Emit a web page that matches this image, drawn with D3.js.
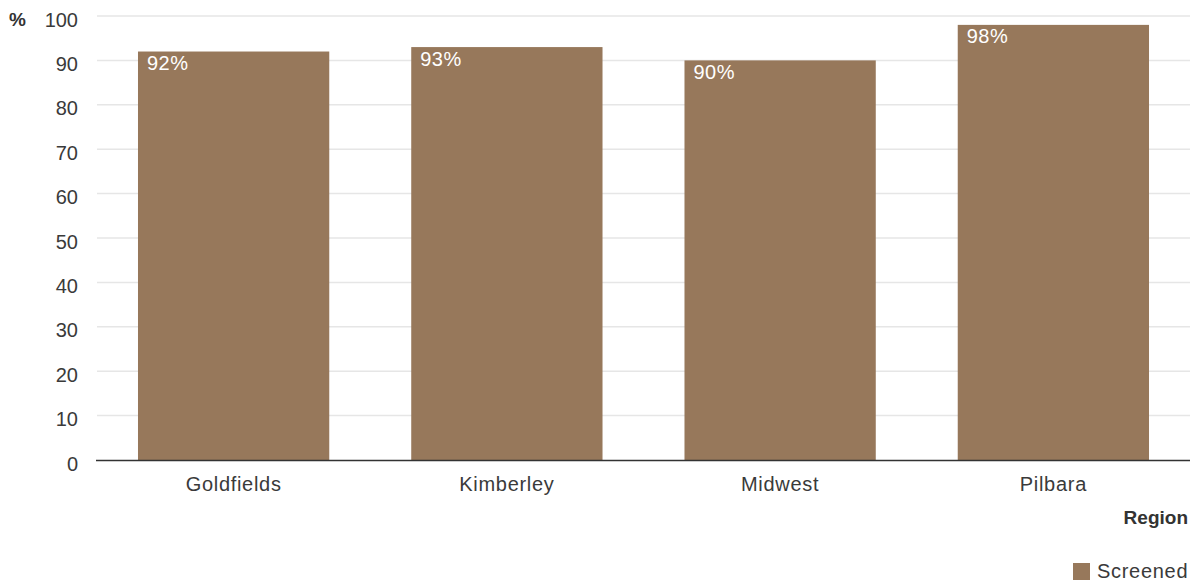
<!DOCTYPE html>
<html><head><meta charset="utf-8">
<script src="https://cdn.jsdelivr.net/npm/d3@7"></script>
<style>body{margin:0;background:#fff}text{font-family:"Liberation Sans",Arial,sans-serif}</style>
</head><body>
<svg id="c" width="1197" height="582"></svg>
<script>
const categories = ["Goldfields","Kimberley","Midwest","Pilbara"];
const screened = [92,93,90,98];
const yTicks = [0,10,20,30,40,50,60,70,80,90,100];
const seriesName = "Screened";
const color = "#97785b";

(function(){
const svg = d3.select("#c");
const mL = 97, mR = 1190, mT = 16, mB = 460;
const F = "Liberation Sans, Arial, sans-serif";
const x = d3.scaleBand().domain(categories).range([mL,mR]).paddingInner(0.3).paddingOuter(0.15);
const y = d3.scaleLinear().domain([0,100]).range([mB,mT]);

svg.append("g").selectAll("line").data(yTicks.filter(d=>d>0)).join("line")
  .attr("x1",mL).attr("x2",mR).attr("y1",d=>y(d)).attr("y2",d=>y(d))
  .attr("stroke","#e6e6e6").attr("stroke-width",1.5);

const ya = svg.append("g").attr("transform",`translate(${mL},0)`)
  .call(d3.axisLeft(y).tickValues(yTicks).tickSize(0).tickPadding(19));
ya.select(".domain").remove();
ya.selectAll("text").attr("font-size",20).attr("fill","#3a3a3a").attr("font-family",F).attr("dy","0.5em");

svg.append("text").attr("x",9).attr("y",26).attr("font-size",19).attr("font-weight","bold").attr("fill","#333").text("%");

svg.append("g").selectAll("rect").data(categories).join("rect")
  .attr("x",d=>x(d)).attr("width",x.bandwidth())
  .attr("y",(d,i)=>y(screened[i])).attr("height",(d,i)=>mB-y(screened[i]))
  .attr("fill",color);

svg.append("g").selectAll("text").data(categories).join("text")
  .attr("x",d=>x(d)+9).attr("y",(d,i)=>y(screened[i])+18.5)
  .attr("font-size",20).attr("letter-spacing",0.5).attr("fill","#fff").text((d,i)=>screened[i]+"%");

const xa = svg.append("g").attr("transform",`translate(0,${mB})`)
  .call(d3.axisBottom(x).tickSize(0).tickPadding(17));
xa.select(".domain").attr("d",`M${mL-1},0.5H${mR}`).attr("stroke","#333").attr("stroke-width",1.5);
xa.selectAll("text").attr("font-size",20).attr("letter-spacing",0.7).attr("fill","#3a3a3a").attr("font-family",F);

svg.append("text").attr("x",1188).attr("y",524).attr("text-anchor","end").attr("font-size",19).attr("font-weight","bold").attr("fill","#333").text("Region");

svg.append("rect").attr("x",1073).attr("y",563).attr("width",17).attr("height",17).attr("fill",color);
svg.append("text").attr("x",1097).attr("y",578).attr("font-size",20).attr("letter-spacing",0.7).attr("fill","#3a3a3a").text(seriesName);
})();
</script>
</body></html>
